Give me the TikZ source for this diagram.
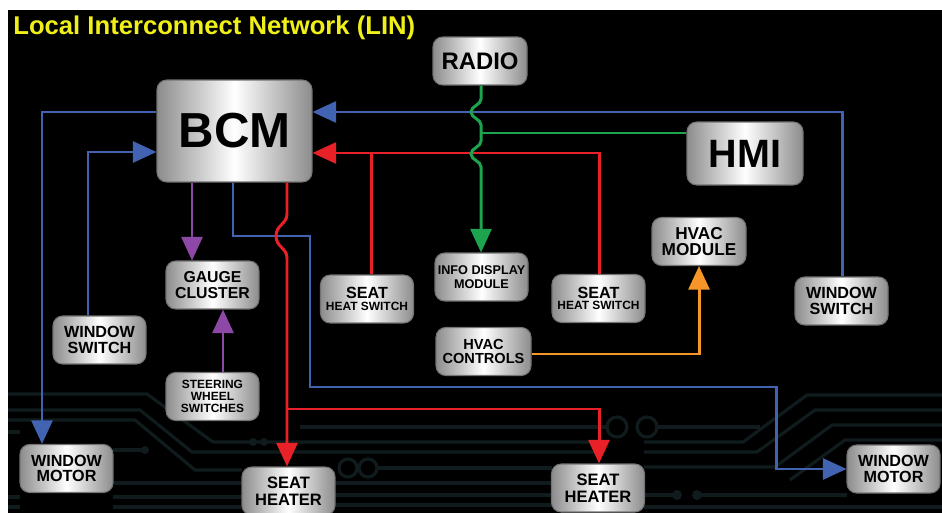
\documentclass[tikz,border=0pt]{standalone}
\usepackage{fontspec}
\setmainfont{Liberation Sans}
\usetikzlibrary{arrows.meta}

\definecolor{linblue}{RGB}{66,98,178}
\definecolor{linred}{RGB}{232,32,40}
\definecolor{linpurple}{RGB}{140,72,164}
\definecolor{lingreen}{RGB}{28,164,78}
\definecolor{linorange}{RGB}{246,150,40}
\definecolor{linyellow}{RGB}{240,240,24}
\definecolor{tracegray}{RGB}{16,27,30}

\tikzset{
    module/.style={draw=black!55, line width=0.6pt, rounded corners=5.5pt,
        left color=black!45, right color=black!45, middle color=white,
        text=black, align=center, inner sep=1pt},
    small/.style={minimum width=1.86cm, minimum height=0.96cm},
    fsz/.style 2 args={font=\bfseries\fontsize{#1}{#2}\selectfont},
    wire/.style={line width=1.7pt},
    tip/.style={-{Triangle[length=13.5pt,width=12pt]}},
    trace/.style={draw=tracegray, line width=1.8pt},
}

\begin{document}
\begin{tikzpicture}[x=0.02cm,y=-0.02cm]
        \useasboundingbox (0,0) rectangle (942,513);
        \fill[white] (0,0) rectangle (942,513);
        \fill[black] (8,10) rectangle (942,513);

        % circuit traces in the background
        \draw[trace] (8,394) -- (147,394) -- (213,442) -- (300,442) -- (600,442);
        \draw[trace] (8,410) -- (140,410) -- (192,452) -- (600,452);
        \draw[trace] (8,420) -- (135,420) -- (195,470) -- (242,470);
        \draw[trace] (113,450) -- (145,450);
        \fill[tracegray] (145,450) circle(4);
        \fill[tracegray] (253,442) circle(4) (264,442) circle(4);
        \draw[trace] (8,432) -- (20,432);
        \draw[trace] (113,483) -- (242,483);
        \draw[trace] (8,497) -- (20,497) (113,497) -- (242,497);
        \draw[trace] (8,507) -- (20,507) (113,507) -- (242,507);
        \draw[trace] (300,427) -- (607,427);
        \draw[trace] (348,468) circle(9) (368,468) circle(9);
        \draw[trace] (377,468) -- (552,468);
        \draw[trace] (335,483) -- (552,483) (335,495) -- (552,495) (335,505) -- (552,505);
        \draw[trace] (617,427) circle(10) (647,427) circle(10);
        \draw[trace] (657,427) -- (760,427);
        \draw[trace] (644,442) -- (743,442) -- (807,395) -- (942,395);
        \draw[trace] (644,452) -- (757,452) -- (815,410) -- (942,410);
        \draw[trace] (644,467) -- (775,467) -- (832,425) -- (942,425);
        \draw[trace] (790,480) -- (845,440) -- (942,440);
        \fill[tracegray] (677,495) circle(5) (697,495) circle(5);
        \draw[trace] (644,495) -- (677,495) (697,495) -- (847,495);
        \draw[trace] (644,507) -- (942,507);

        \node[anchor=base west, inner sep=0, text=linyellow, fsz={14.6}{16}] (title) at (13,35) {Local Interconnect Network (LIN)};

        \node[module, minimum width=3.1cm, minimum height=2.04cm, fsz={28}{30}] (bcm) at (234.5,131) {BCM};
        \node[module, minimum width=1.88cm, minimum height=0.96cm, fsz={13.6}{15}] (radio) at (480,61) {RADIO};
        \node[module, minimum width=2.32cm, minimum height=1.26cm, fsz={22.5}{24}] (hmi) at (745,153.5) {HMI};
        \node[module, small, fsz={9}{8.6}] (gauge) at (212.5,285) {GAUGE\\CLUSTER};
        \node[module, small, fsz={6.8}{6.8}] (steer) at (212.5,396.5) {STEERING\\WHEEL\\SWITCHES};
        \node[module, small, fsz={6.8}{6.5}] (seatswL) at (367,299) {{\fontsize{9.2}{9}\selectfont SEAT}\\HEAT SWITCH};
        \node[module, small, fsz={6.8}{6.5}] (seatswR) at (598.5,298.5) {{\fontsize{9.2}{9}\selectfont SEAT}\\HEAT SWITCH};
        \node[module, small, fsz={7.2}{8}] (info) at (481.5,277) {INFO DISPLAY\\MODULE};
        \node[module, small, minimum width=1.9cm, fsz={8.3}{8.5}] (hvacctl) at (483.5,351.5) {HVAC\\CONTROLS};
        \node[module, small, minimum width=1.88cm, fsz={9.8}{8.8}] (hvacmod) at (699,241.5) {HVAC\\MODULE};
        \node[module, small, fsz={9.2}{9}] (winswL) at (99.5,340) {WINDOW\\SWITCH};
        \node[module, small, fsz={9.2}{9}] (winswR) at (841.5,301) {WINDOW\\SWITCH};
        \node[module, small, fsz={9.2}{9}] (winmotL) at (66.5,468.5) {WINDOW\\MOTOR};
        \node[module, small, fsz={9.2}{9}] (winmotR) at (893.5,469) {WINDOW\\MOTOR};
        \node[module, small, fsz={9.4}{9.6}] (heaterL) at (288.5,491) {SEAT\\HEATER};
        \node[module, small, fsz={9.4}{9.6}] (heaterR) at (598,488) {SEAT\\HEATER};

        % blue: window switches and motors
        \draw[wire, linblue, tip] (bcm.west |- 0,112) -| (winmotL.north -| 42,0);
        \draw[wire, linblue, tip] (winswL.north -| 88,0) |- (bcm.west |- 0,152);
        \draw[wire, linblue, tip] (winswR.north -| 842,0) |- (bcm.east |- 0,112);
        \draw[wire, linblue, tip] (bcm.south -| 233,0) -- (233,236) -| (310,387) -| (776,469) -- (winmotR.west);

        % red: seat heat
        \draw[wire, linred, tip] (seatswR.north -| 599,0) |- (bcm.east |- 0,153);
        \draw[wire, linred] (seatswL.north -| 371,0) -- (371,153);
        \draw[wire, linred, tip] (bcm.south -| 287,0) -- (287,214) .. controls (287,224) and (276,225) .. (276,236)
            .. controls (276,247) and (287,248) .. (287,258) -- (heaterL.north -| 287,0);
        \draw[wire, linred, tip] (287,409) -| (heaterR.north -| 599,0);

        % purple: gauge cluster
        \draw[wire, linpurple, tip] (bcm.south -| 192,0) -- (gauge.north -| 192,0);
        \draw[wire, linpurple, tip] (steer.north -| 223,0) -- (gauge.south -| 223,0);

        % green: radio, hmi, display
        \draw[wire, lingreen, tip] (radio.south -| 481,0) -- (481,99) .. controls (481,105) and (471,106) .. (471,112)
            .. controls (471,118) and (481,119) .. (481,125) -- (481,141) .. controls (481,147) and (471,148) .. (471,154)
            .. controls (471,160) and (481,161) .. (481,167) -- (info.north -| 481,0);
        \draw[wire, lingreen] (hmi.west |- 0,133) -- (481,133);

        % orange: hvac
        \draw[wire, linorange, tip] (hvacctl.east |- 0,354) -| (hvacmod.south);
\end{tikzpicture}
\end{document}
